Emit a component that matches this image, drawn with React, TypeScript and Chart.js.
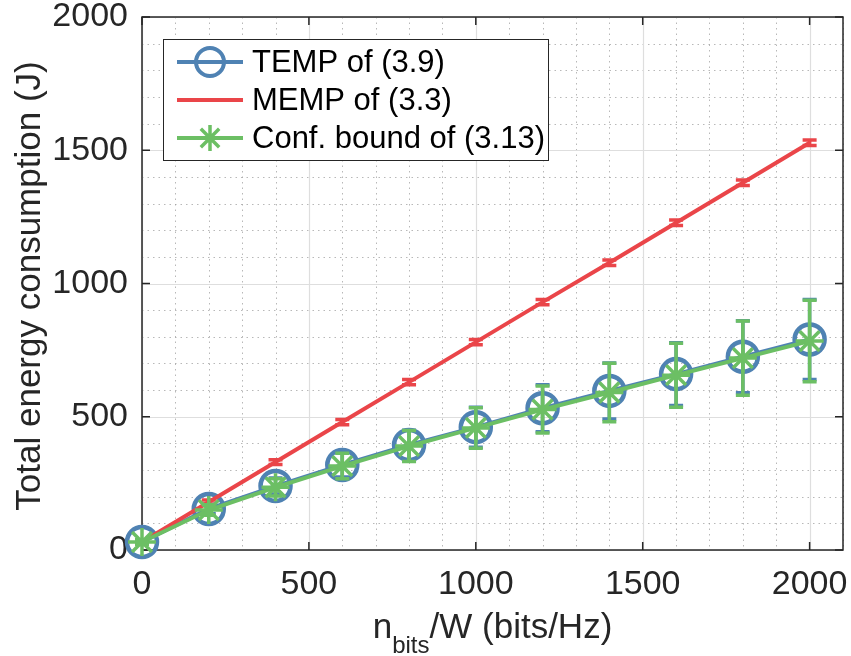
import React, { useEffect, useRef } from 'react';
import { Chart, registerables } from 'chart.js';

Chart.register(...registerables);

// ---- data ----
const xValues = [0, 200, 400, 600, 800, 1000, 1200, 1400, 1600, 1800, 2000];
const tempValues = [30, 154, 240, 319, 394, 461, 532, 597, 660, 725, 790];
const tempErrors = [8, 18, 30, 45, 55, 75, 88, 105, 118, 135, 150];
const mempValues = [30, 180, 330, 480, 630, 780, 930, 1078, 1228, 1378, 1528];
const mempErrors = [5, 8, 9, 10, 10, 10, 10, 10, 10, 10, 10];
const confValues = [30, 150, 235, 315, 390, 458, 527, 591, 656, 720, 784];
const confErrors = [8, 20, 32, 48, 58, 76, 88, 110, 120, 139, 153];
const xTicks = [0, 500, 1000, 1500, 2000];
const yTicks = [0, 500, 1000, 1500, 2000];
const minorStep = 100;
const seriesLabels = ['TEMP of (3.9)', 'MEMP of (3.3)', 'Conf. bound of (3.13)'];
const yTitle = 'Total energy consumption (J)';
const xTitleMain = 'n';
const xTitleSub = 'bits';
const xTitleRest = '/W (bits/Hz)';

const BLUE = '#4f82b3';
const RED = '#ea4549';
const GREEN = '#6cbf64';
const FONT = '"Liberation Sans", Arial, Helvetica, sans-serif';
const AXIS = '#262626';

const toPoints = (vals: number[]) => xValues.map((x, i) => ({ x, y: vals[i] }));

function drawStar(ctx: CanvasRenderingContext2D, cx: number, cy: number, r: number) {
  ctx.beginPath();
  for (let k = 0; k < 4; k++) {
    const a = (k * Math.PI) / 4;
    ctx.moveTo(cx - Math.cos(a) * r, cy - Math.sin(a) * r);
    ctx.lineTo(cx + Math.cos(a) * r, cy + Math.sin(a) * r);
  }
  ctx.stroke();
}

const gridPlugin = {
  id: 'matlabGrid',
  beforeDatasetsDraw(chart: any) {
    const { ctx, chartArea: a, scales } = chart;
    const x = scales.x;
    const y = scales.y;
    ctx.save();
    ctx.strokeStyle = 'rgba(160,160,160,0.75)';
    ctx.lineWidth = 1;
    ctx.setLineDash([1.5, 4]);
    for (let v = x.min; v <= x.max; v += minorStep) {
      if (xTicks.includes(v)) continue;
      const px = Math.round(x.getPixelForValue(v)) + 0.5;
      ctx.beginPath();
      ctx.moveTo(px, a.top);
      ctx.lineTo(px, a.bottom);
      ctx.stroke();
    }
    for (let v = y.min; v <= y.max; v += minorStep) {
      if (yTicks.includes(v)) continue;
      const py = Math.round(y.getPixelForValue(v)) + 0.5;
      ctx.beginPath();
      ctx.moveTo(a.left, py);
      ctx.lineTo(a.right, py);
      ctx.stroke();
    }
    ctx.setLineDash([]);
    ctx.strokeStyle = '#dedede';
    ctx.lineWidth = 1.2;
    xTicks.forEach((v) => {
      const px = Math.round(x.getPixelForValue(v)) + 0.5;
      ctx.beginPath();
      ctx.moveTo(px, a.top);
      ctx.lineTo(px, a.bottom);
      ctx.stroke();
    });
    yTicks.forEach((v) => {
      const py = Math.round(y.getPixelForValue(v)) + 0.5;
      ctx.beginPath();
      ctx.moveTo(a.left, py);
      ctx.lineTo(a.right, py);
      ctx.stroke();
    });
    ctx.strokeStyle = AXIS;
    ctx.lineWidth = 1.5;
    ctx.strokeRect(a.left, a.top, a.right - a.left, a.bottom - a.top);
    const tl = 8;
    ctx.beginPath();
    xTicks.forEach((v) => {
      const px = x.getPixelForValue(v);
      ctx.moveTo(px, a.bottom);
      ctx.lineTo(px, a.bottom - tl);
      ctx.moveTo(px, a.top);
      ctx.lineTo(px, a.top + tl);
    });
    yTicks.forEach((v) => {
      const py = y.getPixelForValue(v);
      ctx.moveTo(a.left, py);
      ctx.lineTo(a.left + tl, py);
      ctx.moveTo(a.right, py);
      ctx.lineTo(a.right - tl, py);
    });
    ctx.stroke();
    ctx.restore();
  },
};

const errorBarPlugin = {
  id: 'errorBars',
  beforeDatasetDraw(chart: any, args: any) {
    const ds = chart.data.datasets[args.index];
    const errs: number[] | undefined = ds.errors;
    if (!errs) return;
    const { ctx } = chart;
    const x = chart.scales.x;
    const y = chart.scales.y;
    const cap = 7;
    ctx.save();
    ctx.strokeStyle = ds.borderColor;
    ctx.lineWidth = 3.5;
    ds.data.forEach((pt: any, i: number) => {
      const px = x.getPixelForValue(pt.x);
      const top = y.getPixelForValue(pt.y + errs[i]);
      const bot = y.getPixelForValue(pt.y - errs[i]);
      ctx.beginPath();
      ctx.moveTo(px, top);
      ctx.lineTo(px, bot);
      ctx.moveTo(px - cap, top);
      ctx.lineTo(px + cap, top);
      ctx.moveTo(px - cap, bot);
      ctx.lineTo(px + cap, bot);
      ctx.stroke();
    });
    ctx.restore();
  },
};

const decorPlugin = {
  id: 'decor',
  afterDraw(chart: any) {
    const { ctx, chartArea: a } = chart;
    ctx.save();
    ctx.fillStyle = AXIS;
    ctx.font = `35px ${FONT}`;
    ctx.save();
    ctx.translate(39.5, 286);
    ctx.rotate(-Math.PI / 2);
    ctx.textAlign = 'center';
    ctx.textBaseline = 'alphabetic';
    ctx.fillText(yTitle, 0, 0);
    ctx.restore();

    const mainFont = `35px ${FONT}`;
    const subFont = `24px ${FONT}`;
    ctx.font = mainFont;
    const w1 = ctx.measureText(xTitleMain).width;
    const w3 = ctx.measureText(xTitleRest).width;
    ctx.font = subFont;
    const w2 = ctx.measureText(xTitleSub).width;
    const cx = (a.left + a.right) / 2;
    let sx = cx - (w1 + w2 + w3) / 2;
    const base = 638;
    ctx.textAlign = 'left';
    ctx.textBaseline = 'alphabetic';
    ctx.font = mainFont;
    ctx.fillText(xTitleMain, sx, base);
    sx += w1;
    ctx.font = subFont;
    ctx.fillText(xTitleSub, sx, base + 15);
    sx += w2;
    ctx.font = mainFont;
    ctx.fillText(xTitleRest, sx, base);

    const bx = 163.5, by = 39.5, bw = 385, bh = 121;
    ctx.fillStyle = '#ffffff';
    ctx.fillRect(bx, by, bw, bh);
    ctx.strokeStyle = AXIS;
    ctx.lineWidth = 1;
    ctx.strokeRect(bx, by, bw, bh);
    const rows = [62, 100, 138];
    const colors = [BLUE, RED, GREEN];
    ctx.font = `31px ${FONT}`;
    ctx.textBaseline = 'middle';
    rows.forEach((ry, i) => {
      ctx.strokeStyle = colors[i];
      ctx.lineWidth = 4;
      ctx.beginPath();
      ctx.moveTo(177, ry);
      ctx.lineTo(243, ry);
      ctx.stroke();
      if (i === 0) {
        ctx.lineWidth = 4;
        ctx.beginPath();
        ctx.arc(210, ry, 14, 0, Math.PI * 2);
        ctx.stroke();
      } else if (i === 2) {
        ctx.lineWidth = 3.5;
        drawStar(ctx, 210, ry, 13);
      }
      ctx.fillStyle = '#000000';
      ctx.fillText(seriesLabels[i], 252, ry + 1);
    });
    ctx.restore();
  },
};

export default function App() {
  const ref = useRef<HTMLCanvasElement>(null);
  useEffect(() => {
    if (!ref.current) return;
    const tickFont = { family: FONT, size: 34 };
    const chart = new Chart(ref.current, {
      type: 'line',
      data: {
        datasets: [
          {
            label: seriesLabels[0],
            data: toPoints(tempValues),
            errors: tempErrors,
            borderColor: BLUE,
            backgroundColor: 'rgba(0,0,0,0)',
            borderWidth: 4,
            pointStyle: 'circle',
            pointRadius: 15,
            pointBorderWidth: 4.5,
            pointBackgroundColor: 'rgba(0,0,0,0)',
            pointBorderColor: BLUE,
            order: 3,
            clip: false,
          } as any,
          {
            label: seriesLabels[1],
            data: toPoints(mempValues),
            errors: mempErrors,
            borderColor: RED,
            backgroundColor: RED,
            borderWidth: 4,
            pointRadius: 0,
            order: 2,
            clip: false,
          } as any,
          {
            label: seriesLabels[2],
            data: toPoints(confValues),
            errors: confErrors,
            borderColor: GREEN,
            backgroundColor: GREEN,
            borderWidth: 4,
            pointStyle: 'star',
            pointRadius: 14,
            pointBorderWidth: 3.5,
            pointBorderColor: GREEN,
            order: 1,
            clip: false,
          } as any,
        ],
      },
      options: {
        animation: false,
        responsive: false,
        devicePixelRatio: 1,
        layout: { autoPadding: false, padding: { top: 17, right: 8, left: 0, bottom: 0 } },
        plugins: { legend: { display: false }, tooltip: { enabled: false } },
        events: [],
        scales: {
          x: {
            type: 'linear',
            min: 0,
            max: 2100,
            afterBuildTicks: (s: any) => {
              s.ticks = xTicks.map((v) => ({ value: v }));
            },
            afterFit: (s: any) => {
              s.height = 106;
              s.paddingLeft = 0;
              s.paddingRight = 0;
            },
            grid: { display: false, drawTicks: false },
            border: { display: false },
            ticks: {
              padding: 14,
              color: AXIS,
              font: tickFont,
              maxRotation: 0,
              autoSkip: false,
              callback: (v: any) => String(v),
            },
          },
          y: {
            type: 'linear',
            min: 0,
            max: 2000,
            afterBuildTicks: (s: any) => {
              s.ticks = yTicks.map((v) => ({ value: v }));
            },
            afterFit: (s: any) => {
              s.width = 142;
              s.paddingTop = 0;
              s.paddingBottom = 0;
            },
            grid: { display: false, drawTicks: false },
            border: { display: false },
            ticks: {
              padding: 14,
              color: AXIS,
              font: tickFont,
              autoSkip: false,
              callback: (v: any) => String(v),
            },
          },
        },
      } as any,
      plugins: [gridPlugin, errorBarPlugin, decorPlugin],
    });
    return () => chart.destroy();
  }, []);
  return (
    <div style={{ position: 'absolute', left: 0, top: 0, width: 851, height: 656 }}>
      <canvas ref={ref} width={851} height={656} style={{ display: 'block' }} />
    </div>
  );
}
